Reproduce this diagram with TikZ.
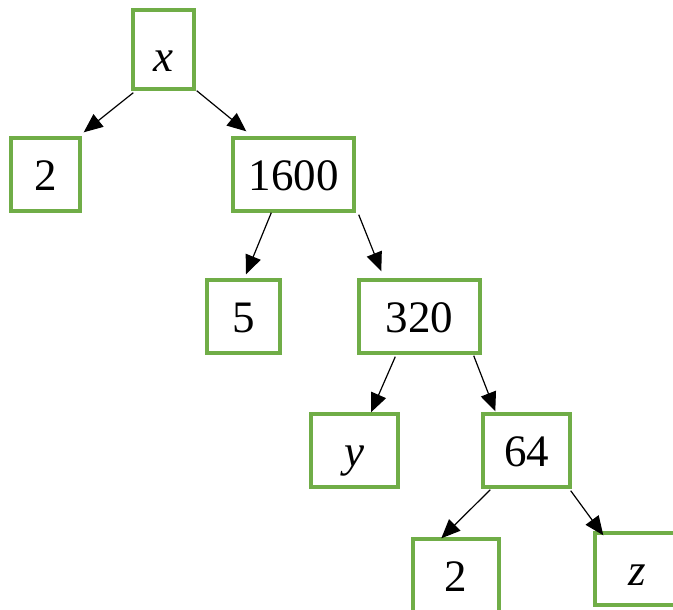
\documentclass[tikz,border=0pt]{standalone}
\usepackage{fontspec}
\setmainfont{Liberation Serif}
\usetikzlibrary{arrows.meta,calc}
\definecolor{boxgreen}{HTML}{70AD47}
\tikzset{
  tbox/.style={draw=boxgreen, line width=3.4pt, rectangle, inner sep=0pt,
    minimum height=73pt, text height=32pt, text depth=0pt,
    font=\fontsize{45}{50}\selectfont},
  arr/.style={line width=1.2pt, -{Triangle[length=19pt,width=16pt]}}
}
\begin{document}
\begin{tikzpicture}[x=1pt,y=-1pt]
\useasboundingbox (0,0) rectangle (673,610);
\node[tbox, minimum width=61pt, minimum height=79pt, text height=45pt] (X) at (163.5,49.5) {\itshape x};
\node[tbox, minimum width=69pt] (two1) at (45.5,174.5) {2};
\node[tbox, minimum width=121pt] (n1600) at (293.5,174.5) {1600};
\node[tbox, minimum width=73pt] (five) at (243.5,316.5) {5};
\node[tbox, minimum width=121pt] (n320) at (419.5,316.5) {320};
\node[tbox, minimum width=87pt] (ny) at (354.5,450.5) {\itshape y};
\node[tbox, minimum width=87pt] (n64) at (526.5,450.5) {64};
\node[tbox, minimum width=86pt] (two2) at (456,575.5) {2};
\node[tbox, minimum width=84pt, minimum height=72pt] (nz) at (637,569) {\itshape z};

\draw[arr] ($(X.south west)+(2,2)$) -- ($(two1.north east)+(2,-4)$);
\draw[arr] ($(X.south east)+(1,0)$) -- ($(n1600.north west)+(15,-5)$);
\draw[arr] ($(n1600.south west)+(40,0)$) -- ($(five.north)+(2.5,-4)$);
\draw[arr] ($(n1600.south east)+(3,2)$) -- ($(n320.north west)+(24,-7)$);
\draw[arr] ($(n320.south west)+(38,2)$) -- ($(ny.north)+(16.5,0)$);
\draw[arr] ($(n320.south east)+(-8,1)$) -- ($(n64.north west)+(14,-1)$);
\draw[arr] ($(n64.south west)+(9,1)$) -- ($(two2.north west)+(30,1)$);
\draw[arr] ($(n64.south east)+(-1,2)$) -- ($(nz.north west)+(10,4)$);
\end{tikzpicture}
\end{document}
